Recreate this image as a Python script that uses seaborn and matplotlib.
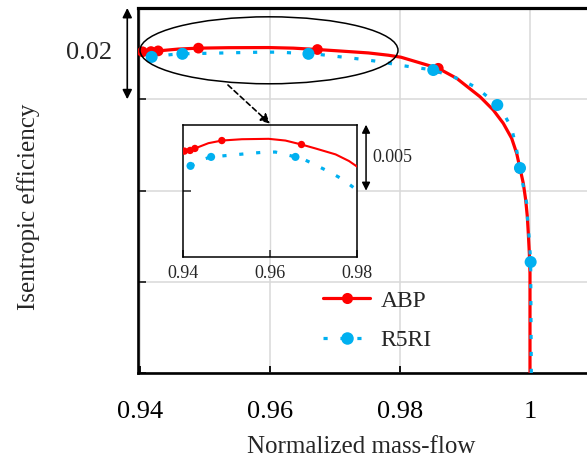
import matplotlib
matplotlib.use("Agg")
import matplotlib.pyplot as plt
from matplotlib.patches import Ellipse
from matplotlib.lines import Line2D
import seaborn as sns

# ---- data -----------------------------------------------------------------
# ABP characteristic (normalized mass-flow vs. isentropic efficiency)
abp_flow = [0.9404, 0.9417, 0.9428, 0.94591, 0.9490, 0.95362, 0.95976,
            0.96361, 0.9673, 0.97053, 0.97515, 0.97822, 0.98016, 0.98589,
            0.98872, 0.99231, 0.99435, 0.99589, 0.99718, 0.99795, 0.99846,
            0.99897, 0.99934, 0.99959, 0.99974, 0.9999, 1.0000, 1.0000]
abp_eff = [0.8904, 0.89045, 0.8906, 0.8910, 0.8912, 0.8913, 0.89133,
           0.8912, 0.8909, 0.8906, 0.89015, 0.88965, 0.88921, 0.88678,
           0.88459, 0.88056, 0.87764, 0.87473, 0.87144, 0.86815, 0.86487,
           0.86158, 0.85792, 0.85426, 0.85062, 0.84623, 0.84186, 0.8200]
abp_mark_flow = [0.9404, 0.9417, 0.9428, 0.9490, 0.9673, 0.98589, 0.99846]
abp_mark_eff = [0.8904, 0.89045, 0.8906, 0.8912, 0.8909, 0.88678, 0.86487]

# R5RI characteristic
r5ri_flow = [0.9418, 0.94475, 0.94653, 0.95131, 0.95454, 0.95807, 0.9613,
             0.96592, 0.96783, 0.97093, 0.9740, 0.97707, 0.9800, 0.98512,
             0.98949, 0.9918, 0.99497, 0.99589, 0.99718, 0.99785, 0.99846,
             0.99888, 0.99949, 0.99965, 0.9999, 1.0001, 1.0002]
r5ri_eff = [0.88928, 0.88978, 0.88996, 0.8901, 0.8902, 0.8903, 0.89033,
            0.88996, 0.88978, 0.88928, 0.88878, 0.8882, 0.88745, 0.88641,
            0.88422, 0.88253, 0.87874, 0.87705, 0.87362, 0.8696, 0.86493,
            0.86158, 0.85719, 0.85316, 0.84915, 0.84433, 0.8200]
r5ri_mark_flow = [0.9418, 0.94653, 0.96592, 0.98512, 0.99497, 0.99846, 1.0001]
r5ri_mark_eff = [0.88928, 0.88996, 0.88996, 0.88641, 0.87874, 0.86493, 0.84433]

x_ticks = [0.94, 0.96, 0.98, 1.0]
x_tick_labels = ["0.94", "0.96", "0.98", "1"]
y_ticks = [0.82, 0.84, 0.86, 0.88, 0.90]
inset_x_ticks = [0.94, 0.96, 0.98]
inset_x_tick_labels = ["0.94", "0.96", "0.98"]
series_names = ["ABP", "R5RI"]

# ---- style ----------------------------------------------------------------
sns.set_style("white")
plt.rcParams["font.family"] = ["Liberation Serif", "DejaVu Serif"]

RED = "#ff0000"
BLUE = "#00b0f0"
GRID = "#d9d9d9"
DOTS = (0, (1.3, 4.0))

W, H = 587, 461
fig = plt.figure(figsize=(W / 100, H / 100), dpi=100)


def fig_box(x0, y0, x1, y1):
    return [x0 / W, 1 - y1 / H, (x1 - x0) / W, (y1 - y0) / H]


# ---- main axes -----------------------------------------------------------
ax = fig.add_axes(fig_box(138, 8, 608, 373))

sns.lineplot(x=abp_flow, y=abp_eff, sort=False, estimator=None, ax=ax,
             color=RED, lw=2.3, zorder=3)
sns.scatterplot(x=abp_mark_flow, y=abp_mark_eff, ax=ax, color=RED, s=60,
                edgecolor="none", zorder=4)
sns.lineplot(x=r5ri_flow, y=r5ri_eff, sort=False, estimator=None, ax=ax,
             color=BLUE, lw=2.3, linestyle=DOTS, zorder=5)
sns.scatterplot(x=r5ri_mark_flow, y=r5ri_mark_eff, ax=ax, color=BLUE, s=75,
                edgecolor="none", zorder=6)

ax.set_xticks(x_ticks)
ax.set_xticklabels(x_tick_labels)
ax.set_yticks(y_ticks)
ax.set_yticklabels([])
ax.set_xlim(0.9397, 1.0120)
ax.set_ylim(0.82, 0.90)
ax.grid(True, color=GRID, lw=1.1, zorder=0)
ax.tick_params(axis="x", direction="in", length=5, width=1.3, pad=20,
               labelsize=19, colors="black", bottom=True)
ax.tick_params(axis="y", direction="in", length=6, width=1.3, left=True)
for side in ["left", "bottom"]:
    ax.spines[side].set_linewidth(1.9)
    ax.spines[side].set_color("black")
ax.spines["top"].set_linewidth(2.3)
ax.spines["top"].set_color("black")
ax.spines["right"].set_visible(False)

ax.set_xlabel("Normalized mass-flow", fontsize=18)
ax.xaxis.set_label_coords(361 / W, 1 - 447 / H, transform=fig.transFigure)
ax.xaxis.label.set_va("center")
ax.set_ylabel("Isentropic efficiency", fontsize=18)
ax.yaxis.set_label_coords(29 / W, 1 - 207 / H, transform=fig.transFigure)
ax.yaxis.label.set_va("center")

# zoom region marker
ax.add_patch(Ellipse((0.95985, 0.89073), 0.03969, 0.01468, fill=False,
                     ec="black", lw=1.1, zorder=7))
ax.annotate("", xy=(0.9600, 0.87465), xytext=(0.95354, 0.88312),
            arrowprops=dict(arrowstyle="-|>", color="black", lw=1.2,
                            linestyle=(0, (3, 2)), mutation_scale=14,
                            shrinkA=0, shrinkB=0), zorder=8)

# 0.02 scale bar
ax.annotate("", xy=(0.93805, 0.9000), xytext=(0.93805, 0.8800),
            xycoords="data", annotation_clip=False,
            arrowprops=dict(arrowstyle="<|-|>", color="black", lw=1.2,
                            mutation_scale=14, shrinkA=0, shrinkB=0))
ax.text(0.93569, 0.89014, "0.02", ha="right", va="center", fontsize=19,
        clip_on=False)

# legend
handles = [
    Line2D([], [], color=RED, lw=2.3, marker="o", markersize=8,
           markeredgewidth=0),
    Line2D([], [], color=BLUE, lw=2.3, linestyle=DOTS, marker="o",
           markersize=9, markeredgewidth=0),
]
fig.legend(handles, series_names, loc="upper left",
           bbox_to_anchor=(323 / W, 1 - 290 / H),
           bbox_transform=fig.transFigure, frameon=False, fontsize=17,
           handlelength=2.0, handletextpad=0.45, labelspacing=0.75,
           borderpad=0, borderaxespad=0, numpoints=1)

# ---- inset ----------------------------------------------------------------
ins = fig.add_axes(fig_box(182.7, 124.7, 356.7, 256.7))
ins.set_facecolor("white")
sns.lineplot(x=abp_flow, y=abp_eff, sort=False, estimator=None, ax=ins,
             color=RED, lw=1.5, zorder=3)
sns.scatterplot(x=abp_mark_flow, y=abp_mark_eff, ax=ins, color=RED, s=28,
                edgecolor="none", zorder=4)
sns.lineplot(x=r5ri_flow, y=r5ri_eff, sort=False, estimator=None, ax=ins,
             color=BLUE, lw=2.3, linestyle=DOTS, zorder=5)
sns.scatterplot(x=r5ri_mark_flow, y=r5ri_mark_eff, ax=ins, color=BLUE, s=34,
                edgecolor="none", zorder=6)
ins.set_xticks(inset_x_ticks)
ins.set_xticklabels(inset_x_tick_labels)
ins.set_yticks([0.8874])
ins.set_yticklabels([])
ins.set_xlim(0.94, 0.98)
ins.set_ylim(0.8824, 0.8924)
ins.grid(False)
ins.axvline(0.96, color=GRID, lw=1.0, zorder=0)
ins.tick_params(axis="x", direction="in", length=5, width=1.1, pad=6,
                labelsize=13, bottom=True)
ins.tick_params(axis="y", direction="in", length=6, width=1.1, left=True)
for sp in ins.spines.values():
    sp.set_linewidth(1.1)
    sp.set_color("black")
ins.set_xlabel("")
ins.set_ylabel("")

# 0.005 scale bar on the inset
ins.annotate("", xy=(0.98215, 0.8924), xytext=(0.98215, 0.8874),
             annotation_clip=False,
             arrowprops=dict(arrowstyle="<|-|>", color="black", lw=1.1,
                             mutation_scale=12, shrinkA=0, shrinkB=0))
ins.text(0.98353, 0.8899, "0.005", ha="left", va="center", fontsize=13,
         clip_on=False)

fig.savefig("out.png", dpi=100)
